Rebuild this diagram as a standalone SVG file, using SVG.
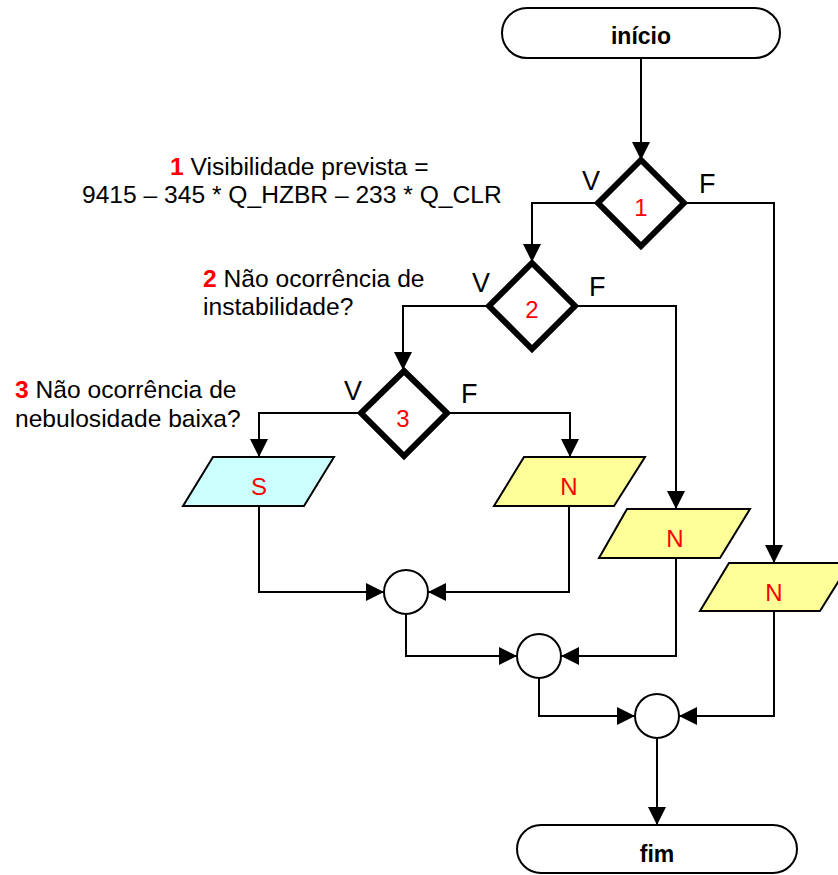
<svg xmlns="http://www.w3.org/2000/svg" width="838" height="875" viewBox="0 0 838 875">
  <style>
    .term { fill: #ffffff; stroke: #000000; stroke-width: 2; }
    .dec { fill: #ffffff; stroke: #000000; stroke-width: 6; stroke-linejoin: miter; }
    .io-s { fill: #ccffff; stroke: #000000; stroke-width: 2; }
    .io-n { fill: #ffff99; stroke: #000000; stroke-width: 2; }
    .join { fill: #ffffff; stroke: #000000; stroke-width: 2; }
    .edge { fill: none; stroke: #000000; stroke-width: 2; marker-end: url(#arrow); }
    .title { font-family: "Liberation Sans", Arial, sans-serif; font-weight: bold; font-size: 23px; fill: #000000; text-anchor: middle; }
    .num { font-family: "Liberation Sans", Arial, sans-serif; font-size: 24px; fill: #ff0000; text-anchor: middle; }
    .vf { font-family: "Liberation Sans", Arial, sans-serif; font-size: 27px; fill: #000000; }
    .note { font-family: "Liberation Sans", Arial, sans-serif; font-size: 24.6px; fill: #000000; }
    .note-num { font-weight: bold; fill: #ff0000; }
  </style>
  <defs>
    <marker id="arrow" markerUnits="userSpaceOnUse" markerWidth="18" markerHeight="18" refX="18" refY="9" orient="auto">
      <path d="M0,0 L18,9 L0,18 z" fill="#000000"/>
    </marker>
  </defs>

  <!-- connectors -->
  <g id="connectors">
    <polyline class="edge" points="641,58 641,160"/>
    <polyline class="edge" points="598,203 532,203 532,262"/>
    <polyline class="edge" points="684,203 774,203 774,563"/>
    <polyline class="edge" points="489,306 403,306 403,370"/>
    <polyline class="edge" points="575,306 676,306 676,509"/>
    <polyline class="edge" points="361,413 259,413 259,457"/>
    <polyline class="edge" points="447,413 570,413 570,457"/>
    <polyline class="edge" points="259,506 259,592 384,592"/>
    <polyline class="edge" points="569,506 569,592 428,592"/>
    <polyline class="edge" points="406,614 406,656 517,656"/>
    <polyline class="edge" points="676,558 676,656 561,656"/>
    <polyline class="edge" points="539,678 539,716 635,716"/>
    <polyline class="edge" points="774,611 774,716 679,716"/>
    <polyline class="edge" points="657,738 657,825"/>
  </g>

  <!-- start / end -->
  <g id="inicio">
    <rect class="term" x="502" y="8" width="278" height="50" rx="25" ry="25"/>
    <text class="title" x="641" y="44">início</text>
  </g>
  <g id="fim">
    <rect class="term" x="517" y="825" width="280" height="48" rx="24" ry="24"/>
    <text class="title" x="657" y="862">fim</text>
  </g>

  <!-- decisions -->
  <g id="decisao1">
    <polygon class="dec" points="641,160 684,203 641,246 598,203"/>
    <text class="num" x="641" y="216">1</text>
    <text class="vf" x="582" y="190">V</text>
    <text class="vf" x="699" y="193">F</text>
  </g>
  <g id="decisao2">
    <polygon class="dec" points="532,263 575,306 532,349 489,306"/>
    <text class="num" x="532" y="318">2</text>
    <text class="vf" x="472" y="292">V</text>
    <text class="vf" x="589" y="296">F</text>
  </g>
  <g id="decisao3">
    <polygon class="dec" points="404,371 447,413 404,456 361,413"/>
    <text class="num" x="403" y="427">3</text>
    <text class="vf" x="344" y="400">V</text>
    <text class="vf" x="461" y="403">F</text>
  </g>

  <!-- outputs -->
  <g id="saida-s">
    <polygon class="io-s" points="213,457 334,457 304,506 183,506"/>
    <text class="num" x="259" y="495">S</text>
  </g>
  <g id="saida-n1">
    <polygon class="io-n" points="524,457 645,457 614,506 494,506"/>
    <text class="num" x="569" y="495">N</text>
  </g>
  <g id="saida-n2">
    <polygon class="io-n" points="627,509 750,509 720,558 599,558"/>
    <text class="num" x="675" y="547">N</text>
  </g>
  <g id="saida-n3">
    <polygon class="io-n" points="729,563 850,563 820,611 700,611"/>
    <text class="num" x="774" y="601">N</text>
  </g>

  <!-- joins -->
  <g id="juncao1"><circle class="join" cx="406" cy="592" r="22"/></g>
  <g id="juncao2"><circle class="join" cx="539" cy="656" r="22"/></g>
  <g id="juncao3"><circle class="join" cx="657" cy="716" r="22"/></g>

  <!-- notes -->
  <g id="nota1">
    <text class="note" x="170" y="175"><tspan class="note-num">1</tspan> Visibilidade prevista =</text>
    <text class="note" x="82" y="203">9415 – 345 * Q_HZBR – 233 * Q_CLR</text>
  </g>
  <g id="nota2">
    <text class="note" x="203" y="287"><tspan class="note-num">2</tspan> Não ocorrência de</text>
    <text class="note" x="203" y="315">instabilidade?</text>
  </g>
  <g id="nota3">
    <text class="note" x="15" y="398"><tspan class="note-num">3</tspan> Não ocorrência de</text>
    <text class="note" x="15" y="427">nebulosidade baixa?</text>
  </g>
</svg>
